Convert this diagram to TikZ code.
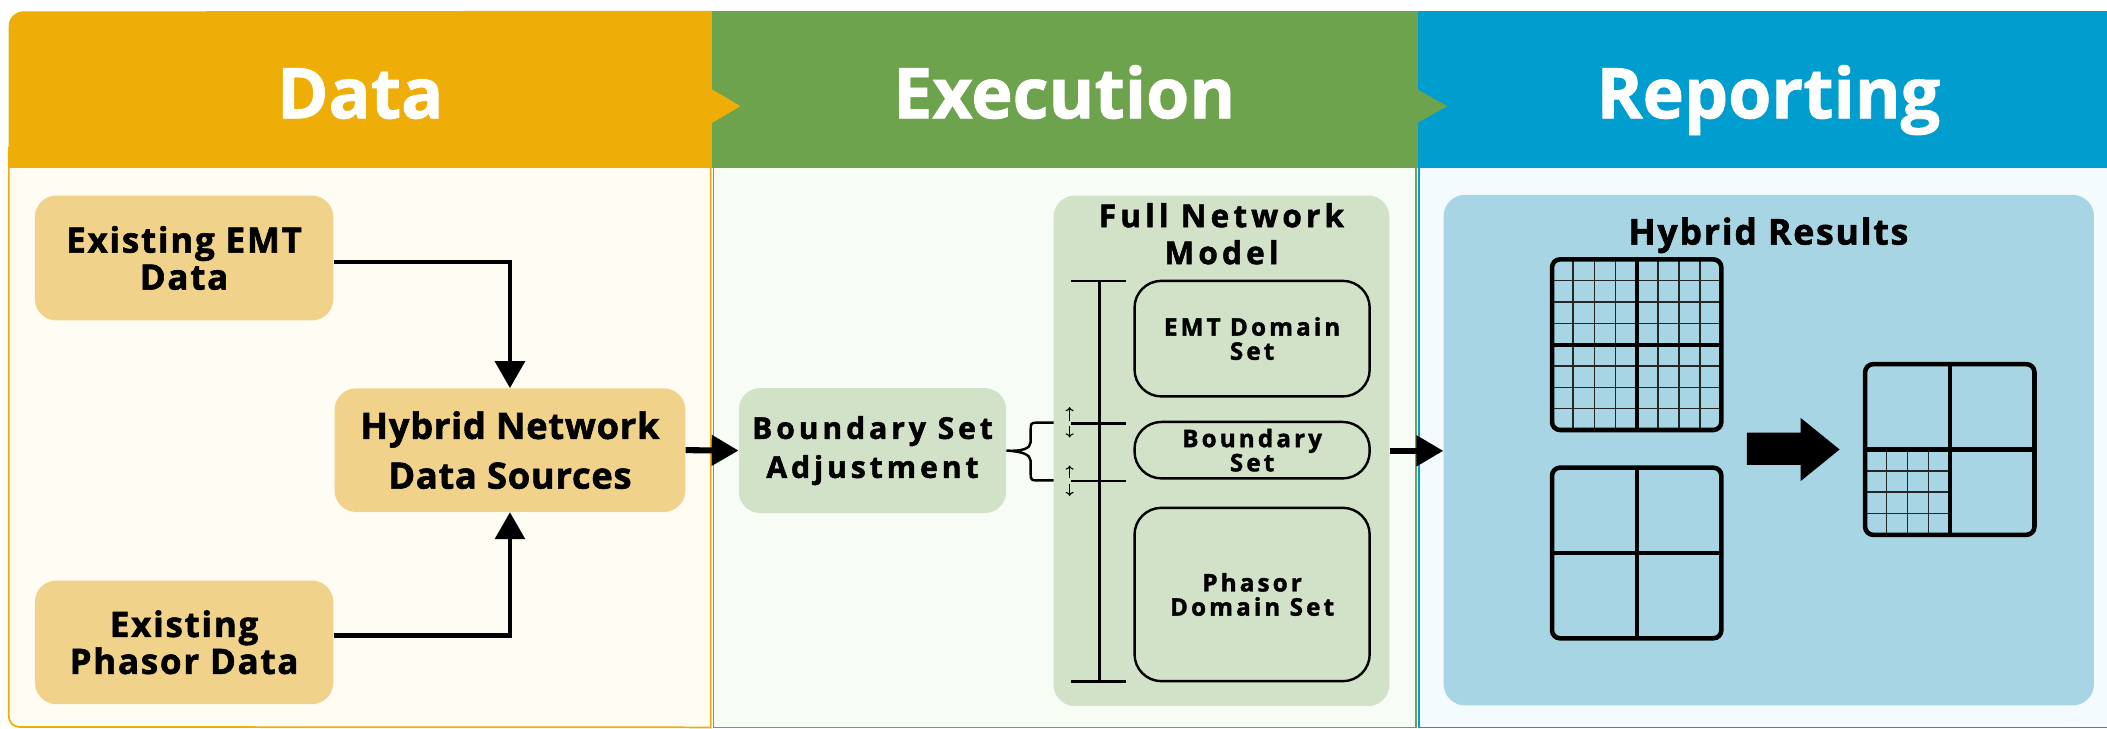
\documentclass[tikz,border=0pt]{standalone}
\usepackage{fontspec}
\setmainfont{Open Sans}
\newfontfamily\ttl{Open Sans}[FakeBold=1.2]
\newfontfamily\fdat{Open Sans}[FakeBold=1.6, LetterSpace=5]
\newfontfamily\fhyb{Open Sans}[FakeBold=1.6, LetterSpace=2]
\newfontfamily\trk{Open Sans}[FakeBold=1.6, LetterSpace=13]
\usetikzlibrary{arrows.meta}
\definecolor{hdrA}{HTML}{EFAE07}
\definecolor{hdrB}{HTML}{6DA34D}
\definecolor{hdrC}{HTML}{009ECF}
\definecolor{bodyA}{HTML}{FFFCF3}
\definecolor{bodyB}{HTML}{F7FDF5}
\definecolor{bodyC}{HTML}{F3FBFF}
\definecolor{dboxc}{HTML}{F0D28A}
\definecolor{eboxc}{HTML}{D2E2C8}
\definecolor{rboxc}{HTML}{A8D5E4}
\begin{document}
\begin{tikzpicture}[x=1pt,y=-1pt,
  hdrtext/.style={anchor=base, text=white, inner sep=0pt, font=\ttl\fontsize{52}{52}\selectfont\bfseries},
  dbox/.style={fill=dboxc, rounded corners=16pt, inner sep=0pt, align=center, font=\fdat\fontsize{26}{27.5}\selectfont\bfseries},
  ebox/.style={fill=eboxc, rounded corners=16pt, inner sep=0pt, align=center},
  setbox/.style={draw=black, line width=1.8pt, rounded corners=20pt, inner sep=0pt, align=center, font=\trk\fontsize{18}{18}\selectfont\bfseries},
  conn/.style={line width=3.2pt, -{Triangle[length=20pt,width=22pt]}},
  bigconn/.style={line width=4.5pt, -{Triangle[length=20pt,width=22pt]}},
  barln/.style={line width=2pt},
  dblarr/.style={line width=0.8pt, -{To[length=3pt,width=6pt]}},
  fineln/.style={line width=1.2pt, black!85},
  crossln/.style={line width=3.2pt},
  gridborder/.style={line width=3.4pt, rounded corners=6pt}
]
\useasboundingbox (0,0) rectangle (1568,542);
% bodies
\draw[draw=hdrA, fill=bodyA, line width=1.3pt] (529,110) -- (6.5,110) -- (6.5,533) arc[start angle=180, end angle=90, radius=8] -- (529,541.3) -- cycle;
\draw[draw=hdrB, fill=bodyB, line width=1.3pt] (531,110) rectangle (1054,541.3);
\draw[draw=hdrC, fill=bodyC, line width=1.3pt] (1056,110) rectangle (1580,541.3);
% headers
\fill[hdrA] (530,8) -- (530,125) -- (6.5,125) -- (6.5,19) arc[start angle=180, end angle=270, radius=10.5] -- cycle;
\fill[hdrB] (530,8) rectangle (1055,125);
\fill[hdrC] (1055,8) rectangle (1568,125);
\fill[hdrA] (529,66) -- (551,79) -- (529,92) -- cycle;
\fill[hdrB] (1054,66) -- (1077,79) -- (1054,92) -- cycle;
\node[hdrtext] (tData) at (268,88) {Data};
\node[hdrtext] (tExec) at (792,88) {Execution};
\node[hdrtext] (tRep) at (1316,88) {Reporting};
% data column
\node[dbox, minimum width=222pt, minimum height=93pt] (emt) at (137,192) {Existing EMT\\Data};
\node[dbox, minimum width=222pt, minimum height=92pt] (pha) at (137,478) {Existing\\Phasor Data};
\node[dbox, minimum width=261pt, minimum height=92pt, font=\fhyb\fontsize{27}{37}\selectfont\bfseries] (hyb) at (379.5,335) {Hybrid Network\\Data Sources};
\draw[conn] ([yshift=-3pt]emt.east) -| (hyb.north);
\draw[conn] ([yshift=5pt]pha.east) -| (hyb.south);
% execution column
\node[ebox, minimum width=199pt, minimum height=93pt, font=\trk\fontsize{22.4}{29}\selectfont\bfseries] (bsa) at (649.3,335.3) {Boundary Set\\Adjustment};
\draw[bigconn] (hyb.east) -- (bsa.west);
\node[ebox, minimum width=250pt, minimum height=380pt] (fnm) at (909,335.5) {};
\node[inner sep=0pt, align=center, font=\trk\fontsize{23.5}{27.5}\selectfont\bfseries] (fnmt) at (909,174) {Full Network\\Model};
\node[setbox, minimum width=175pt, minimum height=86pt] (emts) at (931.8,252) {EMT Domain\\Set};
\node[setbox, minimum width=175pt, minimum height=42pt] (bnds) at (931.8,335) {Boundary\\Set};
\node[setbox, minimum width=175pt, minimum height=129pt] (phas) at (931.8,442.4) {Phasor\\Domain Set};
% bracket
\coordinate (b0) at (818,209);
\coordinate (b1) at (818,315);
\coordinate (b2) at (818,358);
\coordinate (b3) at (818,507);
\draw[barln] (b0) -- (b3);
\foreach \c in {b0,b1,b2,b3} { \draw[barln] ([xshift=-21pt]\c) -- ([xshift=20pt]\c); }
\draw[dblarr] (796,313) -- (796,303);
\draw[dblarr] (796,317) -- (796,325.5);
\draw[dblarr] (796,356) -- (796,346.5);
\draw[dblarr] (796,360) -- (796,369);
% brace
\coordinate (brU) at (784,314.5);
\coordinate (brL) at (784,357.5);
\draw[line width=1.8pt] (brU) -- (771,314.5) .. controls (767,314.5) and (767,316) .. (767,320) -- (767,329) .. controls (767,334) and (760,336) .. (bsa.east) .. controls (760,336) and (767,338) .. (767,343) -- (767,353) .. controls (767,357) and (768,357.5) .. (771,357.5) -- (brL);
% reporting column
\node[fill=rboxc, rounded corners=16pt, minimum width=484pt, minimum height=380pt, inner sep=0pt] (rep) at (1316.3,335) {};
\draw[bigconn] (fnm.east) -- (fnm.east -| rep.west);
\node[anchor=base, inner sep=0pt, font=\fdat\fontsize{26.5}{26.5}\selectfont\bfseries] (rest) at (1316,182) {Hybrid Results};
% grid 1 (fine)
\foreach \k in {1,2,3,5,6,7} {
  \draw[fineln] (1155+\k*15.75,193) -- (1155+\k*15.75,320);
  \draw[fineln] (1155,193+\k*15.875) -- (1281,193+\k*15.875);
}
\draw[crossln] (1218,193) -- (1218,320);
\draw[crossln] (1155,256.5) -- (1281,256.5);
\draw[gridborder] (1155,193) rectangle (1281,320);
% grid 2 (coarse)
\draw[crossln] (1218,348) -- (1218,475);
\draw[crossln] (1155,411.5) -- (1281,411.5);
\draw[gridborder] (1155,348) rectangle (1281,475);
% block arrow
\fill[black] (1300,322) -- (1340,322) -- (1340,311) -- (1369,334.5) -- (1340,358) -- (1340,346) -- (1300,346) -- cycle;
% grid 3 (result)
\foreach \k in {1,2,3} {
  \draw[fineln] (1388+\k*15.75,334.5) -- (1388+\k*15.75,398);
  \draw[fineln] (1388,334.5+\k*15.875) -- (1451,334.5+\k*15.875);
}
\draw[crossln] (1451,271) -- (1451,398);
\draw[crossln] (1388,334.5) -- (1514,334.5);
\draw[gridborder] (1388,271) rectangle (1514,398);
\end{tikzpicture}
\end{document}
